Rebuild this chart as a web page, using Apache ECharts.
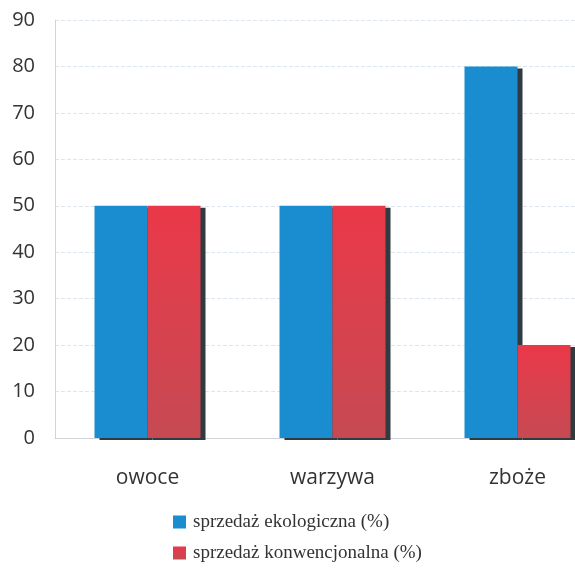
<!DOCTYPE html>
<html><head><meta charset="utf-8">
<script src="https://cdn.jsdelivr.net/npm/echarts@6/dist/echarts.min.js"></script>
<style>html,body{margin:0;padding:0;background:#fff;overflow:hidden;width:575px;height:568px}#c{width:610px;height:568px}</style>
</head><body><div id="c"></div>
<script>
var categories = ['owoce', 'warzywa', 'zboże'];
var ekoValues = [50, 50, 80];
var konwValues = [50, 50, 20];
var seriesNames = ['sprzedaż ekologiczna (%)', 'sprzedaż konwencjonalna (%)'];

var chart = echarts.init(document.getElementById('c'));
var shadow = {shadowColor:'#2f3b40', shadowOffsetX:5, shadowOffsetY:2, shadowBlur:0};
chart.setOption({
  animation:false,
  grid:{left:55, right:0, top:20, bottom:130},
  legend:{
    orient:'vertical', left:173, top:511, height:60, padding:0, itemGap:9, itemWidth:13, itemHeight:13,
    icon:'rect',
    textStyle:{fontFamily:'Liberation Serif', fontSize:19, color:'#333', lineHeight:22, padding:[0,0,0,2]},
    data:seriesNames
  },
  xAxis:{
    type:'category', data:categories,
    axisLine:{lineStyle:{color:'#d0d4d8'}},
    axisTick:{show:false},
    axisLabel:{fontFamily:'Open Sans', fontSize:21, color:'#333', margin:30}
  },
  yAxis:{
    type:'value', min:0, max:90, interval:10,
    axisLine:{show:true, lineStyle:{color:'#d0d4d8'}},
    axisTick:{show:false},
    axisLabel:{fontFamily:'Open Sans', fontSize:20, color:'#333', margin:20},
    splitLine:{lineStyle:{color:'#dde5ee', type:'dashed'}}
  },
  series:[
    {name:seriesNames[0], type:'bar', data:ekoValues, barWidth:53, barGap:'0%',
     itemStyle:Object.assign({color:'#1a8dd0'}, shadow)},
    {name:seriesNames[1], type:'bar', data:konwValues, barWidth:53,
     itemStyle:Object.assign({color:new echarts.graphic.LinearGradient(0,0,0,1,[
       {offset:0,color:'#ea3848'},{offset:1,color:'#c64a53'}])}, shadow)}
  ]
});
</script></body></html>
